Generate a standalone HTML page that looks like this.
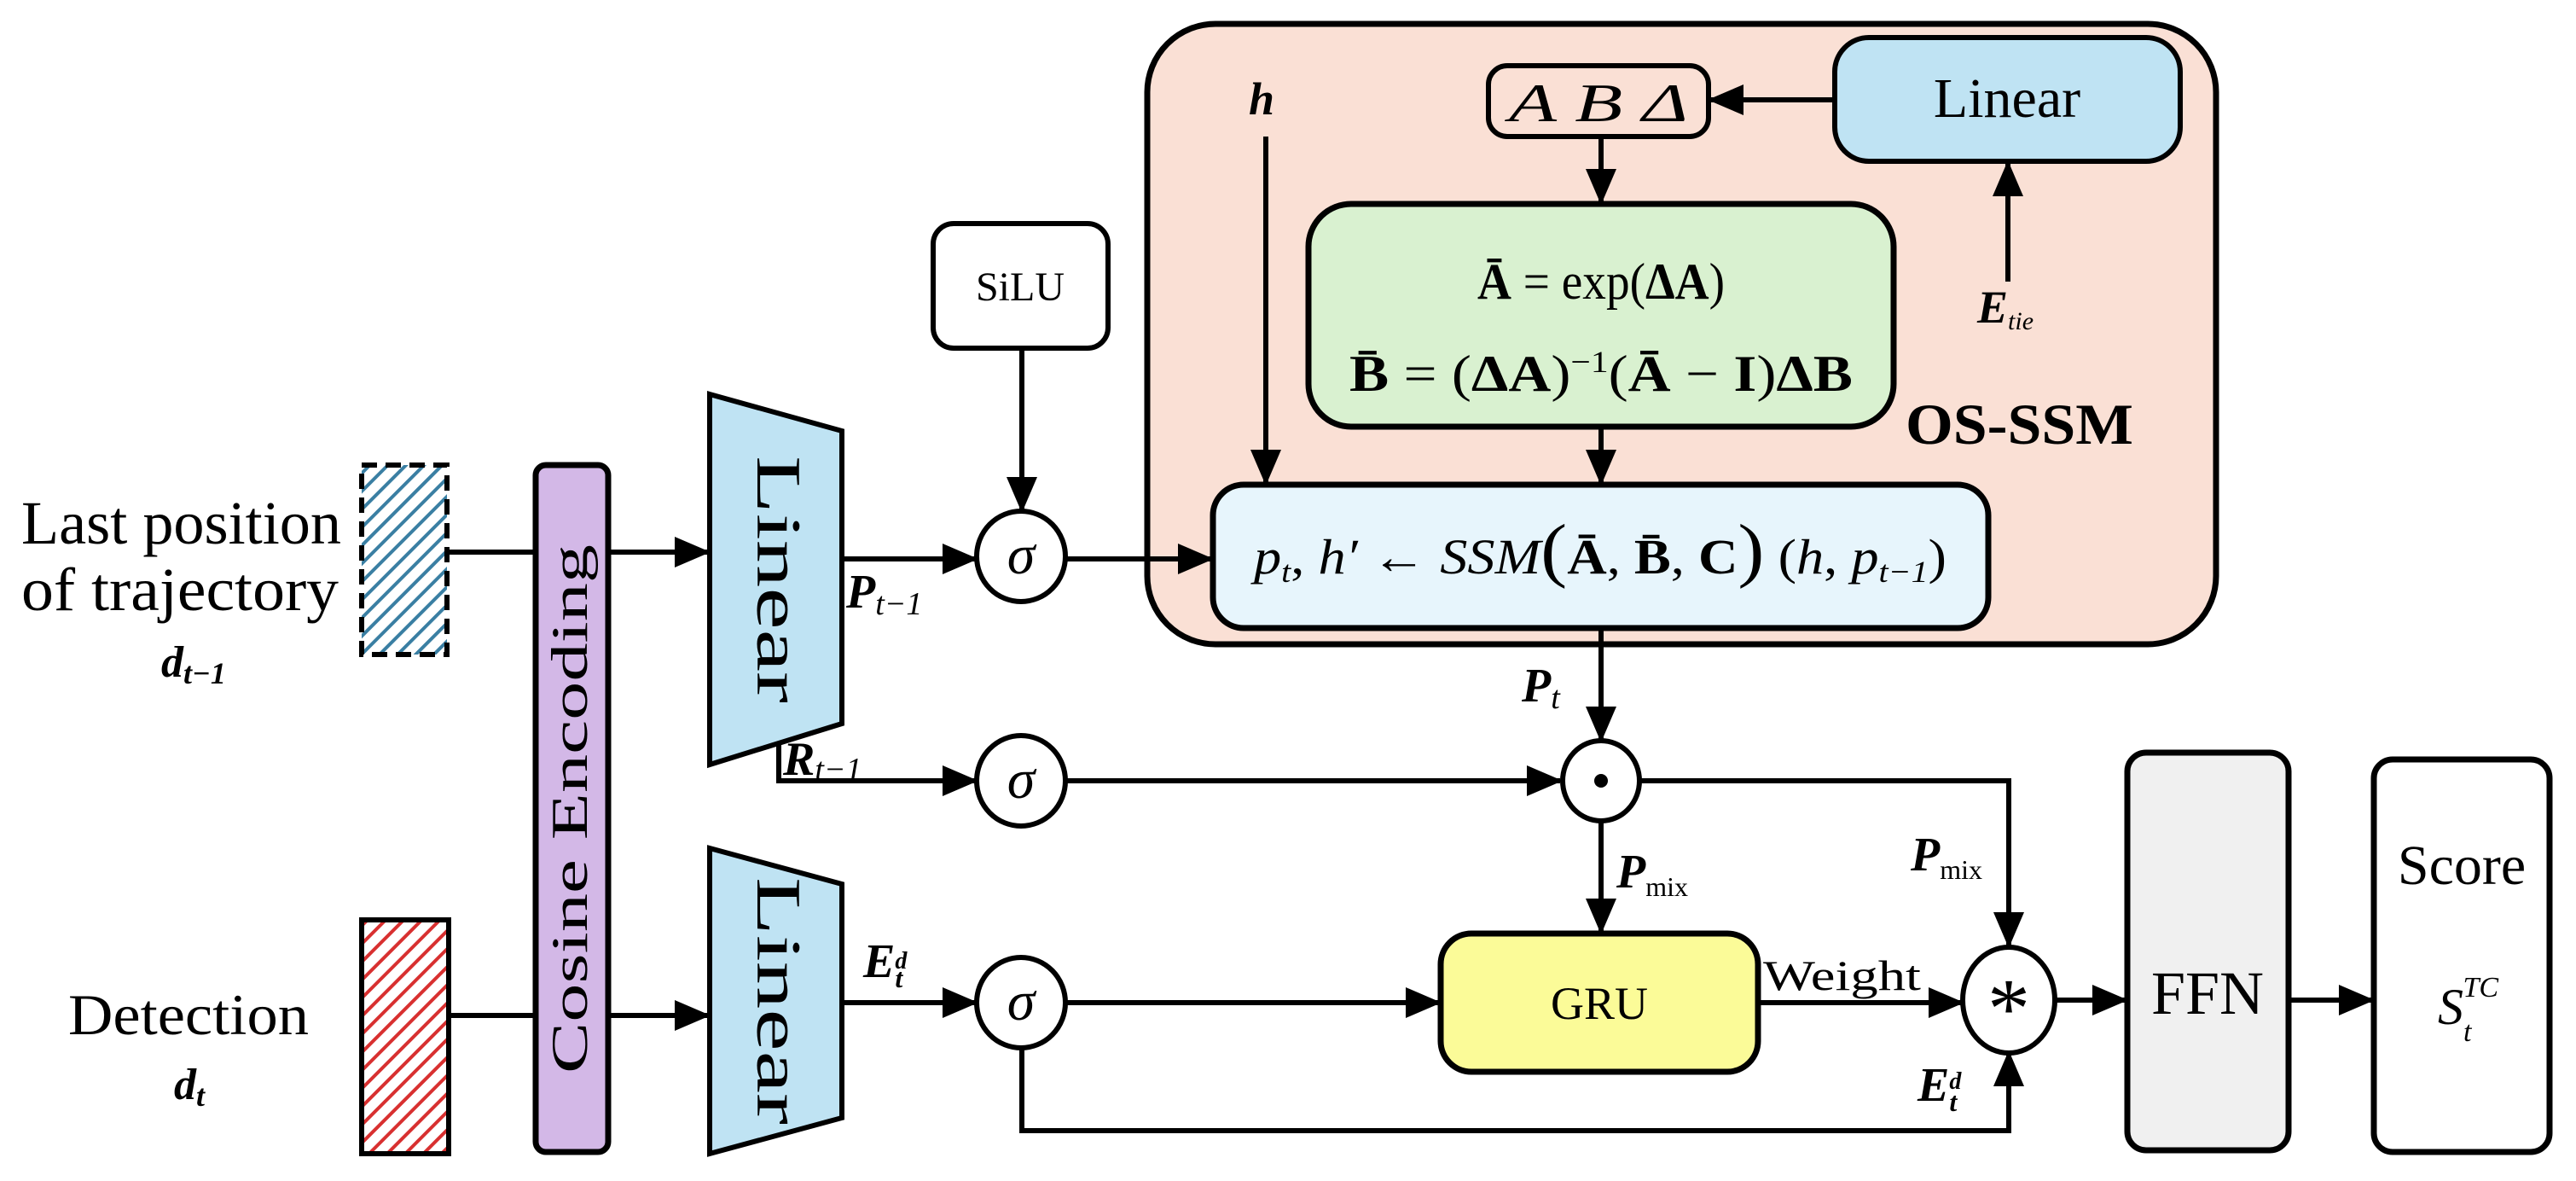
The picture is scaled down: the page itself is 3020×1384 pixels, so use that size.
<!DOCTYPE html>
<html><head><meta charset="utf-8"><style>
html,body{margin:0;padding:0;background:#fff}
svg{display:block}
text{font-family:"Liberation Serif","DejaVu Serif",serif;fill:#000}
.it{font-style:italic}
.b{font-weight:bold}
</style></head><body>
<svg width="3020" height="1384" viewBox="0 0 3020 1384" xmlns="http://www.w3.org/2000/svg">
<defs>
<marker id="ar" markerWidth="7" markerHeight="6" refX="6.5" refY="3" orient="auto" markerUnits="strokeWidth">
<path d="M0,0 L7,3 L0,6 z" fill="#000"/>
</marker>
<pattern id="hb" width="15" height="15" patternUnits="userSpaceOnUse" patternTransform="rotate(45)">
<rect width="15" height="15" fill="#fff"/><rect x="0" y="0" width="4" height="15" fill="#3a7fa3"/>
</pattern>
<pattern id="hr" width="15" height="15" patternUnits="userSpaceOnUse" patternTransform="rotate(45)">
<rect width="15" height="15" fill="#fff"/><rect x="0" y="0" width="4" height="15" fill="#d83030"/>
</pattern>
</defs>

<!-- OS-SSM outer -->
<rect x="1345" y="28" width="1253" height="727" rx="80" fill="#fae0d5" stroke="#000" stroke-width="7"/>

<g stroke="#000" stroke-width="6" fill="none">
<path d="M524,647 H830" marker-end="url(#ar)"/>
<path d="M526,1190 H830" marker-end="url(#ar)"/>
<path d="M987,655 H1144" marker-end="url(#ar)"/>
<path d="M1198,408 V598" marker-end="url(#ar)"/>
<path d="M1250,655 H1420" marker-end="url(#ar)"/>
<path d="M1484,160 V566" marker-end="url(#ar)"/>
<path d="M2151,117 H2005" marker-end="url(#ar)"/>
<path d="M2354,330 V191" marker-end="url(#ar)"/>
<path d="M1877,160 V237" marker-end="url(#ar)"/>
<path d="M1877,500 V566" marker-end="url(#ar)"/>
<path d="M1877,736 V867" marker-end="url(#ar)"/>
<path d="M913,871 V915 H1144" marker-end="url(#ar)"/>
<path d="M1250,915 H1829" marker-end="url(#ar)"/>
<path d="M1877,962 V1092" marker-end="url(#ar)"/>
<path d="M1922,915 H2355 V1108" marker-end="url(#ar)"/>
<path d="M987,1175 H1144" marker-end="url(#ar)"/>
<path d="M1250,1175 H1687" marker-end="url(#ar)"/>
<path d="M2061,1175 H2300" marker-end="url(#ar)"/>
<path d="M1198,1228 V1325 H2355 V1234" marker-end="url(#ar)"/>
<path d="M2409,1172 H2492" marker-end="url(#ar)"/>
<path d="M2683,1172 H2781" marker-end="url(#ar)"/>
</g>

<!-- input boxes -->
<rect x="424" y="545" width="100" height="222" fill="url(#hb)" stroke="#000" stroke-width="6" stroke-dasharray="18,10"/>
<rect x="424" y="1078" width="102" height="274" fill="url(#hr)" stroke="#000" stroke-width="6"/>
<!-- cosine bar -->
<rect x="628" y="545" width="85" height="805" rx="12" fill="#d3b8e7" stroke="#000" stroke-width="7"/>
<text transform="translate(688,948) rotate(-90)" text-anchor="middle" font-size="60" textLength="620" lengthAdjust="spacingAndGlyphs">Cosine Encoding</text>
<!-- linear trapezoids -->
<polygon points="832,462 987,505 987,848 832,896" fill="#bfe3f3" stroke="#000" stroke-width="6"/>
<text transform="translate(888,679) rotate(90)" text-anchor="middle" font-size="74" textLength="290" lengthAdjust="spacingAndGlyphs">Linear</text>
<polygon points="832,994 987,1036 987,1310 832,1352" fill="#bfe3f3" stroke="#000" stroke-width="6"/>
<text transform="translate(888,1173) rotate(90)" text-anchor="middle" font-size="74" textLength="290" lengthAdjust="spacingAndGlyphs">Linear</text>

<!-- SiLU -->
<rect x="1094" y="262" width="205" height="146" rx="24" fill="#fff" stroke="#000" stroke-width="6"/>
<text x="1196" y="352" text-anchor="middle" font-size="48">SiLU</text>

<!-- sigmas -->
<ellipse cx="1197" cy="652" rx="52" ry="53" fill="#fff" stroke="#000" stroke-width="6"/>
<text x="1197" y="672" text-anchor="middle" font-size="66" class="it">σ</text>
<ellipse cx="1197" cy="915" rx="52" ry="53" fill="#fff" stroke="#000" stroke-width="6"/>
<text x="1197" y="935" text-anchor="middle" font-size="66" class="it">σ</text>
<ellipse cx="1197" cy="1175" rx="52" ry="53" fill="#fff" stroke="#000" stroke-width="6"/>
<text x="1197" y="1195" text-anchor="middle" font-size="66" class="it">σ</text>

<!-- inner SSM boxes -->
<rect x="1745" y="77" width="258" height="83" rx="22" fill="#fae0d5" stroke="#000" stroke-width="6"/>
<text x="1874" y="142" text-anchor="middle" font-size="64" class="it" textLength="210" lengthAdjust="spacingAndGlyphs">A  B  Δ</text>
<rect x="2151" y="44" width="405" height="145" rx="40" fill="#bfe3f3" stroke="#000" stroke-width="6"/>
<text x="2353" y="137" text-anchor="middle" font-size="66">Linear</text>
<rect x="1534" y="239" width="686" height="261" rx="50" fill="#d9f1d0" stroke="#000" stroke-width="7"/>
<text x="1877" y="350" text-anchor="middle" font-size="60" textLength="290" lengthAdjust="spacingAndGlyphs"><tspan class="b">Ā</tspan> = exp(<tspan class="b">ΔA</tspan>)</text>
<text x="1877" y="458" text-anchor="middle" font-size="60" textLength="590" lengthAdjust="spacingAndGlyphs"><tspan class="b">B̄</tspan> = (<tspan class="b">ΔA</tspan>)<tspan dy="-22" font-size="36">−1</tspan><tspan dy="22">(</tspan><tspan class="b">Ā</tspan> − <tspan class="b">I</tspan>)<tspan class="b">ΔB</tspan></text>
<rect x="1422" y="568" width="909" height="168" rx="36" fill="#e7f5fc" stroke="#000" stroke-width="7"/>
<text x="1876" y="672" text-anchor="middle" font-size="58" textLength="812" lengthAdjust="spacingAndGlyphs"><tspan class="it">p</tspan><tspan class="it" font-size="36" dy="10">t</tspan><tspan dy="-10">, </tspan><tspan class="it">h′</tspan> ← <tspan class="it">SSM</tspan><tspan font-size="84">(</tspan><tspan class="b">Ā</tspan>, <tspan class="b">B̄</tspan>, <tspan class="b">C</tspan><tspan font-size="84">)</tspan> (<tspan class="it">h</tspan>, <tspan class="it">p</tspan><tspan class="it" font-size="36" dy="10">t−1</tspan><tspan dy="-10">)</tspan></text>
<text x="2234" y="520" font-size="68" class="b" textLength="267" lengthAdjust="spacingAndGlyphs">OS-SSM</text>
<text x="1464" y="134" font-size="54" class="b it">h</text>
<text x="2318" y="378" font-size="54" class="b it">E<tspan font-size="30" font-weight="normal" dy="8">tie</tspan></text>

<!-- odot -->
<ellipse cx="1877" cy="915" rx="45" ry="47" fill="#fff" stroke="#000" stroke-width="6"/>
<circle cx="1877" cy="915" r="8" fill="#000"/>
<!-- star -->
<ellipse cx="2355" cy="1172" rx="54" ry="62" fill="#fff" stroke="#000" stroke-width="6"/>
<text x="2355" y="1215" text-anchor="middle" font-size="100">*</text>

<!-- GRU -->
<rect x="1689" y="1094" width="372" height="162" rx="36" fill="#fbfb98" stroke="#000" stroke-width="7"/>
<text x="1875" y="1194" text-anchor="middle" font-size="54">GRU</text>
<!-- FFN / Score -->
<rect x="2494" y="882" width="189" height="466" rx="22" fill="#f0f0f0" stroke="#000" stroke-width="7"/>
<text x="2588" y="1188" text-anchor="middle" font-size="72">FFN</text>
<rect x="2783" y="890" width="206" height="460" rx="22" fill="#fff" stroke="#000" stroke-width="7"/>
<text x="2886" y="1036" text-anchor="middle" font-size="66">Score</text>
<text x="2858" y="1200" font-size="60" class="it">S<tspan font-size="34" dy="20">t</tspan><tspan font-size="34" dx="-10" dy="-52">TC</tspan></text>

<!-- left labels -->
<text x="25" y="637" font-size="72" textLength="375" lengthAdjust="spacingAndGlyphs">Last position</text>
<text x="25" y="715" font-size="72" textLength="372" lengthAdjust="spacingAndGlyphs">of  trajectory</text>
<text x="189" y="793" font-size="52" class="b it">d<tspan font-size="36" dy="8">t−1</tspan></text>
<text x="80" y="1212" font-size="68" textLength="282" lengthAdjust="spacingAndGlyphs">Detection</text>
<text x="204" y="1288" font-size="52" class="b it">d<tspan font-size="36" dy="8">t</tspan></text>

<!-- connector labels -->
<text x="992" y="712" font-size="56" class="b it">P<tspan font-size="38" font-weight="normal" dy="8">t−1</tspan></text>
<text x="918" y="908" font-size="56" class="b it">R<tspan font-size="38" font-weight="normal" dy="6">t−1</tspan></text>
<text x="1012" y="1145" font-size="56" class="b it">E<tspan font-size="28" dy="-10">d</tspan><tspan font-size="32" dx="-14" dy="22">t</tspan></text>
<text x="1784" y="822" font-size="56" class="b it">P<tspan font-size="38" font-weight="normal" dy="8">t</tspan></text>
<text x="1895" y="1040" font-size="56" class="b it">P<tspan font-size="32" font-style="normal" font-weight="normal" dy="10">mix</tspan></text>
<text x="2240" y="1020" font-size="56" class="b it">P<tspan font-size="32" font-style="normal" font-weight="normal" dy="10">mix</tspan></text>
<text x="2067" y="1160" font-size="50" textLength="185" lengthAdjust="spacingAndGlyphs">Weight</text>
<text x="2248" y="1290" font-size="56" class="b it">E<tspan font-size="28" dy="-14">d</tspan><tspan font-size="32" dx="-14" dy="26">t</tspan></text>
</svg>
</body></html>
